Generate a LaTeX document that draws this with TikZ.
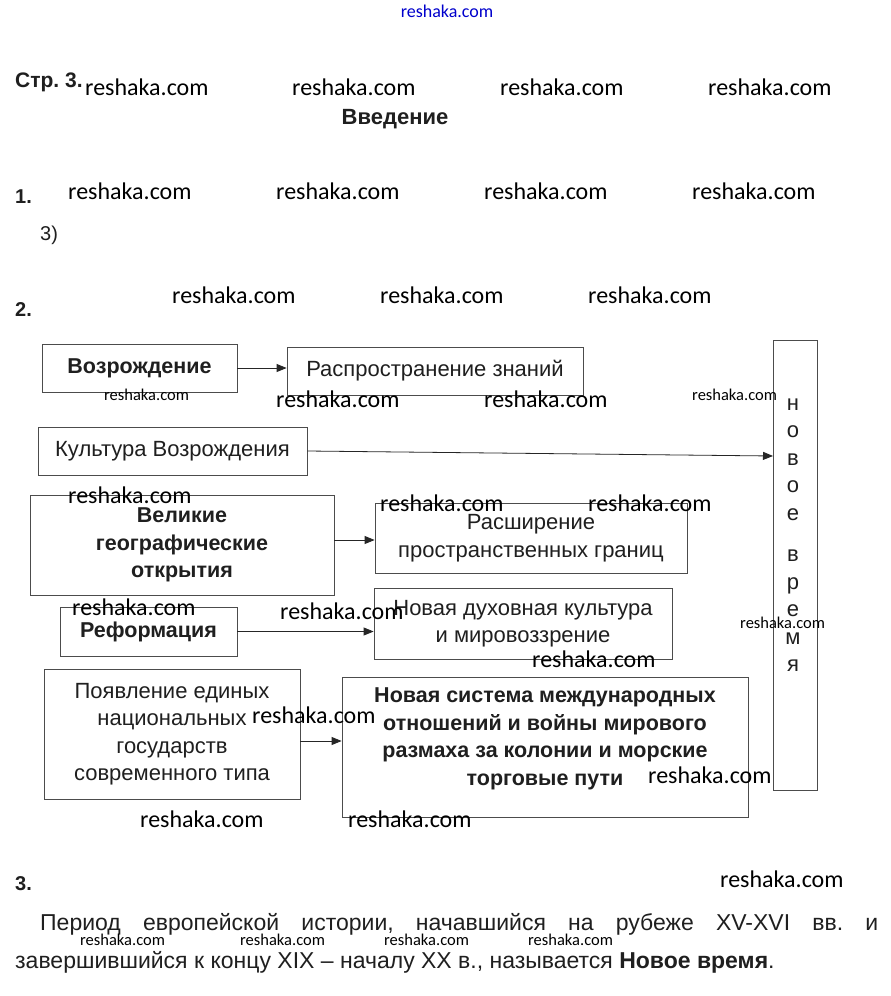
\documentclass[tikz,border=0pt]{standalone}
\usepackage{fontspec}
\setmainfont{Liberation Sans}
\newfontfamily\wmfont{Carlito}
\usetikzlibrary{arrows.meta}
\frenchspacing
\begin{document}
\begin{tikzpicture}[x=1pt,y=-1pt,
  box/.style={draw=black!70, line width=0.8pt, inner sep=0pt},
  txt/.style={font=\fontsize{22}{27.5}\selectfont, align=center, text=black!88},
  btxt/.style={font=\fontsize{21.5}{27.5}\selectfont\bfseries, align=center, text=black!88},
  head/.style={font=\fontsize{20}{20}\selectfont\bfseries, anchor=west, inner sep=0pt, text=black!88},
  wmL/.style={font=\wmfont\fontsize{24}{24}\selectfont, anchor=west, inner sep=0pt},
  wmS/.style={font=\wmfont\fontsize{16.5}{16.5}\selectfont, anchor=west, inner sep=0pt},
  arr/.style={-{Triangle[length=10pt,width=8pt]}, line width=0.8pt, draw=black!85}
]
\useasboundingbox (0,0) rectangle (891,996);
\fill[white] (0,0) rectangle (891,996);

% header
\node[font=\wmfont\fontsize{18}{18}\selectfont, text=blue!80!black, inner sep=0pt] (wtop) at (447,11) {reshaka.com};
\node[head, font=\fontsize{21}{21}\selectfont\bfseries] (str) at (15,82) {Стр. 3.};
\node[font=\fontsize{22}{22}\selectfont\bfseries, text=black!88, inner sep=0pt] (vved) at (395,119) {Введение};
\node[head] (n1) at (15,197) {1.};
\node[head, font=\fontsize{20}{20}\selectfont] (n3b) at (40,235) {3)};
\node[head] (n2) at (15,310) {2.};

% boxes
\node[box, btxt, minimum width=195pt, minimum height=48pt] (vozr) at (139.5,368) {Возрождение};
\node[box, txt, minimum width=296pt, minimum height=48pt] (rasp) at (435,371) {Распространение знаний};
\node[box, minimum width=44pt, minimum height=450pt] (nv) at (795,565) {};
\node[txt, inner sep=0pt] (nvtext) at (793,535) {н\\о\\в\\о\\е\\[14pt]в\\р\\е\\м\\я};
\node[box, txt, minimum width=269pt, minimum height=48pt] (kult) at (172.5,451) {Культура Возрождения};
\node[box, btxt, minimum width=304pt, minimum height=100pt] (vel) at (182,545) {Великие\\географические\\открытия};
\node[box, txt, minimum width=312pt, minimum height=70pt] (rassh) at (531,538) {Расширение\\пространственных границ};
\node[box, btxt, minimum width=177pt, minimum height=49pt] (ref) at (148.5,631.5) {Реформация};
\node[box, txt, minimum width=298pt, minimum height=71pt] (nd) at (523,623.5) {Новая духовная культура\\и мировоззрение};
\node[box, txt, minimum width=256pt, minimum height=130pt] (pojavl) at (172,734) {Появление единых\\национальных\\государств\\современного типа};
\node[box, minimum width=406pt, minimum height=140pt] (ns) at (545,747) {};
\node[btxt, inner sep=0pt] (nstext) at (545,739) {Новая система международных\\отношений и войны мирового\\размаха за колонии и морские\\торговые пути};

% connectors
\coordinate (nvin) at (773,456);
\draw[arr] (vozr.east) -- (vozr.east -| rasp.west);
\draw[arr] (kult.east) -- (nvin);
\draw[arr] ([yshift=5pt]vel.east) -- ([yshift=5pt]vel.east -| rassh.west);
\draw[arr] (ref.east) -- (ref.east -| nd.west);
\draw[arr] ([yshift=-7pt]pojavl.east) -- ([yshift=-7pt]pojavl.east -| ns.west);

% section 3
\node[head] (n3) at (15,884) {3.};
\node[anchor=west, inner sep=0pt, font=\fontsize{23}{23}\selectfont, text=black!88] (p1) at (40,924) {\makebox[838pt][s]{Период европейской истории, начавшийся на рубеже XV-XVI вв. и}};
\node[anchor=west, inner sep=0pt, font=\fontsize{23}{23}\selectfont, text=black!88] (p2) at (15,962) {завершившийся к концу XIX – началу XX в., называется \textbf{Новое время}.};

% watermarks
\node[wmL] (w1) at (85,87) {reshaka.com};
\node[wmL] (w2) at (292,87) {reshaka.com};
\node[wmL] (w3) at (500,87) {reshaka.com};
\node[wmL] (w4) at (708,87) {reshaka.com};
\node[wmL] (w5) at (68,191) {reshaka.com};
\node[wmL] (w6) at (276,191) {reshaka.com};
\node[wmL] (w7) at (484,191) {reshaka.com};
\node[wmL] (w8) at (692,191) {reshaka.com};
\node[wmL] (w9) at (172,295) {reshaka.com};
\node[wmL] (w10) at (380,295) {reshaka.com};
\node[wmL] (w11) at (588,295) {reshaka.com};
\node[wmS] (w12) at (104,395) {reshaka.com};
\node[wmL] (w13) at (276,399) {reshaka.com};
\node[wmL] (w14) at (484,399) {reshaka.com};
\node[wmS] (w15) at (692,395) {reshaka.com};
\node[wmL] (w16) at (68,495) {reshaka.com};
\node[wmL] (w17) at (380,503) {reshaka.com};
\node[wmL] (w18) at (588,503) {reshaka.com};
\node[wmL] (w19) at (72,607) {reshaka.com};
\node[wmL] (w20) at (280,611) {reshaka.com};
\node[wmS] (w21) at (740,623) {reshaka.com};
\node[wmL] (w22) at (532,659) {reshaka.com};
\node[wmL] (w23) at (252,715) {reshaka.com};
\node[wmL] (w24) at (648,775) {reshaka.com};
\node[wmL] (w25) at (140,819) {reshaka.com};
\node[wmL] (w26) at (348,819) {reshaka.com};
\node[wmL] (w27) at (720,879) {reshaka.com};
\node[wmS] (w28) at (80,940) {reshaka.com};
\node[wmS] (w29) at (240,940) {reshaka.com};
\node[wmS] (w30) at (384,940) {reshaka.com};
\node[wmS] (w31) at (528,940) {reshaka.com};
\end{tikzpicture}
\end{document}
